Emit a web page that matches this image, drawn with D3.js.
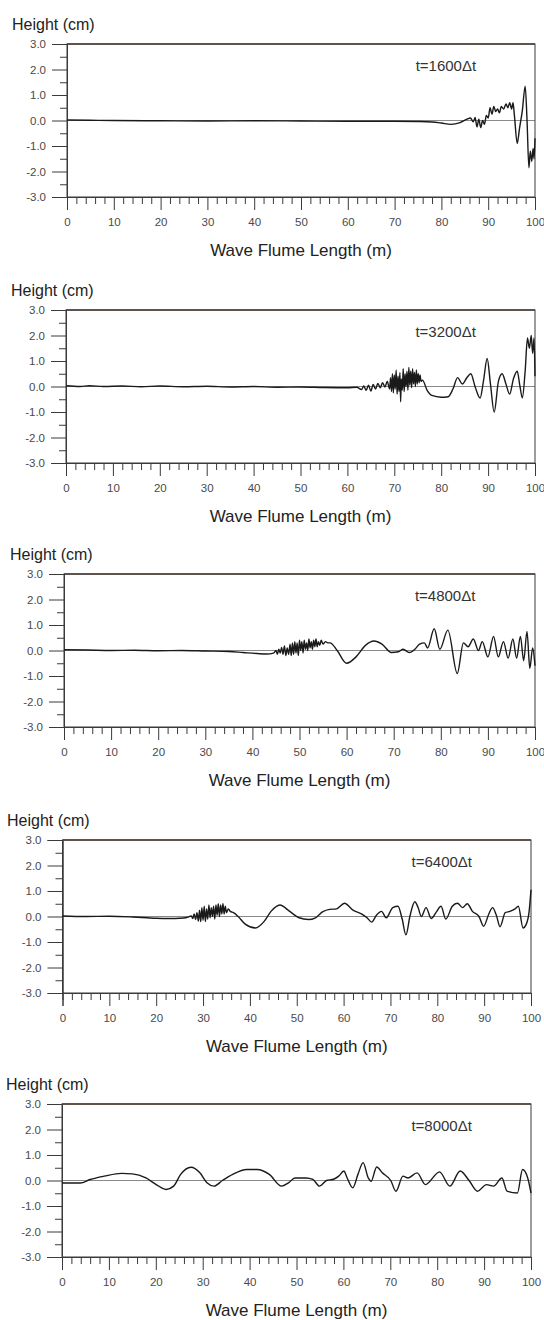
<!DOCTYPE html>
<html>
<head>
<script src="https://d3js.org/d3.v7.min.js"></script>
<style>
    body {
        margin: 0;
        background: #fff;
        font-family: 'Liberation Sans', Arial, sans-serif;
    }
    svg {
        display: block;
    }
</style>
</head>
<body>
<div id="chart"></div>
<script>
// tick values and labels
var xMajor = [0, 10, 20, 30, 40, 50, 60, 70, 80, 90, 100];
var xMinor = [2, 4, 6, 8, 12, 14, 16, 18, 22, 24, 26, 28, 32, 34, 36, 38, 42, 44, 46, 48,
              52, 54, 56, 58, 62, 64, 66, 68, 72, 74, 76, 78, 82, 84, 86, 88, 92, 94, 96, 98];
var yMajor = [-3, -2, -1, 0, 1, 2, 3];
var yMinor = [-2.5, -1.5, -0.5, 0.5, 1.5, 2.5];
var timeLabels = ["t=1600\u0394t", "t=3200\u0394t", "t=4800\u0394t", "t=6400\u0394t", "t=8000\u0394t"];
var yTitle = "Height (cm)";
var xTitle = "Wave Flume Length (m)";

// free surface elevation [x (m), height (cm)]
var eta1600 = [[0,0.02],[5,0.01],[10,0.0],[20,-0.01],[30,-0.02],[40,-0.01],[50,-0.02],[60,-0.03],[70,-0.03],
    [75,-0.04],[78,-0.06],[80,-0.1],[82,-0.15],[84,-0.08],[85.5,0.05],[86.2,0.1],[86.8,-0.05],[87.2,0.12],
    [87.6,-0.25],[88,0.05],[88.4,-0.28],[88.8,0.0],[89.2,-0.15],[89.6,0.2],[90,0.1],[90.4,0.5],[90.8,0.25],
    [91.2,0.55],[91.6,0.35],[92,0.45],[92.4,0.3],[92.8,0.55],[93.3,0.45],[93.8,0.65],[94.2,0.5],[94.6,0.7],
    [95,0.45],[95.3,0.7],[95.6,0.2],[96.2,-0.9],[96.7,-0.3],[97.3,0.4],[97.9,1.35],[98.3,0.0],[98.7,-1.85],
    [99.0,-1.2],[99.3,-1.6],[99.6,-1.1],[99.8,-1.5],[100,-0.7]];

var eta3200 = [[0,0.03],[3,0.0],[5,0.03],[8,0.0],[12,0.02],[16,-0.01],[20,0.02],[25,-0.01],[30,0.01],
    [35,-0.02],[40,0.0],[45,-0.03],[50,-0.02],[55,-0.04],[60,-0.05],[62,-0.03],[63,-0.12],[63.5,0.02],
    [64,-0.15],[64.5,0.05],[65,-0.18],[65.5,0.08],[66,-0.1],[66.5,0.12],[67,-0.05],[67.5,0.15],[68,-0.02],
    [68.5,0.2],[69,-0.1],[69.2,0.35],[69.4,-0.2],[69.6,0.5],[69.8,-0.25],[70,0.45],[70.2,-0.1],[70.4,0.65],
    [70.6,-0.3],[70.8,0.4],[71,-0.2],[71.2,0.55],[71.35,-0.6],[71.5,0.3],[71.7,-0.15],[71.9,0.7],[72.1,-0.2],
    [72.3,0.5],[72.5,0.0],[72.7,0.6],[72.9,-0.15],[73.1,0.75],[73.3,0.05],[73.5,0.6],[73.7,-0.05],[73.9,0.7],
    [74.1,0.1],[74.3,0.55],[74.5,0.0],[74.7,0.65],[74.9,0.1],[75.1,0.5],[75.3,0.15],[75.5,0.45],[75.7,0.2],
    [76,0.25],[77,-0.15],[78,-0.35],[80,-0.42],[81.5,-0.4],[82.5,-0.1],[83.5,0.35],[84.5,0.1],
    [85.5,0.35],[86.3,0.5],[87.3,-0.05],[88.3,-0.45],[89,0.2],[89.8,1.1],[90.5,0.1],[91.3,-1.0],[92.2,0.2],
    [93,0.5],[93.8,0.1],[94.6,-0.3],[95.4,0.3],[96.2,0.6],[96.8,0.0],[97.3,-0.45],[97.9,0.6],[98.4,1.9],
    [98.8,1.5],[99.2,2.0],[99.5,1.3],[99.8,1.9],[100,0.4]];

var eta4800 = [[0,0.03],[5,0.02],[10,0.0],[15,0.01],[20,-0.01],[25,0.0],[30,-0.02],[35,-0.04],[38,-0.08],
    [41,-0.12],[43,-0.14],[44.5,-0.1],[45,0.0],[45.3,-0.15],[45.6,0.05],[45.9,-0.1],[46.2,0.12],[46.5,-0.15],
    [46.8,0.18],[47.1,-0.2],[47.4,0.1],[47.7,-0.15],[48,0.25],[48.25,-0.2],[48.5,0.3],[48.75,-0.15],[49,0.35],
    [49.25,-0.1],[49.5,0.3],[49.75,-0.2],[50,0.4],[50.25,0.0],[50.5,0.35],[50.75,-0.1],[51,0.4],[51.25,0.05],
    [51.5,0.3],[51.75,0.0],[52,0.45],[52.25,0.1],[52.5,0.35],[52.75,0.05],[53,0.4],[53.25,0.15],[53.5,0.45],
    [53.75,0.15],[54,0.35],[54.3,0.2],[54.6,0.4],[55,0.25],[55.5,0.35],[56,0.3],[56.5,0.3],
    [58,0.0],[60,-0.5],[62,-0.25],[64,0.2],[65.8,0.37],[67.5,0.25],
    [69.5,-0.08],[71,-0.05],[72,0.05],[73.3,-0.08],[74.5,0.05],[75.5,0.25],[76.5,0.3],[77.2,0.1],[78.6,0.85],
    [79.8,0.05],[81.5,0.8],[83.5,-0.9],[84.8,0.3],[85.8,0.15],[86.9,0.45],[88,0.0],[88.8,0.35],[90,-0.25],
    [91.2,0.55],[92.2,-0.25],[93.3,0.35],[94.3,-0.3],[95.3,0.45],[96.1,-0.3],[96.9,0.55],[97.6,-0.4],
    [98.3,0.75],[98.9,-0.7],[99.5,0.1],[100,-0.6]];

var eta6400 = [[0,0.02],[5,0.0],[10,0.01],[15,-0.02],[18,-0.05],[20,-0.07],[23,-0.08],[25,-0.07],[26.5,-0.04],
    [27.5,0.02],[27.8,-0.08],[28.1,0.1],[28.4,-0.12],[28.7,0.15],[29,-0.18],[29.25,0.25],[29.5,-0.2],
    [29.75,0.35],[30,-0.15],[30.25,0.4],[30.5,-0.2],[30.75,0.3],[31,-0.1],[31.25,0.45],[31.5,-0.05],
    [31.75,0.35],[32,0.0],[32.25,0.4],[32.5,-0.1],[32.75,0.45],[33,0.05],[33.25,0.5],[33.5,0.0],[33.75,0.45],
    [34,0.1],[34.25,0.5],[34.5,0.1],[34.75,0.4],[35,0.15],[35.4,0.3],[35.8,0.2],
    [36.5,0.15],[37.5,0.0],[39,-0.3],[41.2,-0.45],[43,-0.2],[44.5,0.2],
    [46.4,0.45],[48.5,0.2],[50.5,-0.05],[52.5,-0.12],[54,-0.05],[55.5,0.18],[57,0.28],[58.5,0.3],[60.2,0.52],
    [62,0.25],[63.8,0.1],[65,-0.05],[66,-0.22],[67,0.05],[68.1,0.2],[69.1,-0.05],[70.5,0.35],[71.6,0.4],
    [72.5,-0.1],[73.3,-0.72],[74.2,0.05],[75.2,0.58],[75.9,0.35],[76.6,0.0],[77.6,0.35],[78.7,-0.08],
    [79.7,0.15],[80.8,0.4],[81.8,-0.1],[83.2,0.4],[84.3,0.52],[85.4,0.35],[86.4,0.5],[87.5,0.2],[88.9,0.0],
    [89.9,-0.38],[91,0.1],[91.8,0.35],[92.6,0.05],[93.4,-0.4],[94.5,0.15],[95.5,0.2],[96.6,0.3],[97.3,0.4],
    [98.3,-0.45],[99,-0.3],[99.6,0.2],[100,1.05]];

var eta8000 = [[0,-0.1],[3.9,-0.1],[6,0.04],[9,0.17],[12.7,0.28],[15,0.26],[17.9,0.1],[20.1,-0.16],
    [22.2,-0.35],[23.8,-0.22],[25.3,0.24],[27.5,0.52],[29.4,0.3],[30.9,-0.09],[32.4,-0.22],[34.2,0.0],
    [36.4,0.24],[39.4,0.43],[41.6,0.43],[44.2,0.24],[46.8,-0.22],[48.3,-0.09],[49.7,0.1],[52,0.1],[53.5,0.04],
    [54.9,-0.22],[56.4,0.0],[57.9,0.05],[59,0.17],[60.1,0.37],[60.8,0.1],[62,-0.29],[63.1,0.24],[64.2,0.7],
    [65.3,0.1],[65.9,-0.03],[67.1,0.53],[68.3,0.3],[70.1,0.0],[71.2,-0.42],[72.7,0.17],[73.8,0.1],[75.7,0.3],
    [77.5,-0.16],[80.5,0.34],[82.7,-0.22],[84.9,0.37],[86.8,0.0],[88.6,-0.42],[90.5,-0.16],[92,-0.22],
    [93.8,0.1],[94.9,-0.42],[97.1,-0.49],[98.2,0.43],[99.3,0.1],[100,-0.49]];

var series = [eta1600, eta3200, eta4800, eta6400, eta8000];

// page layout, one panel per snapshot
var W = 544, H = 1320;
var panelTop = [44, 310, 574, 840, 1104];
var panelLeft = [67, 66, 64, 62.5, 62];
var panelRight = [535, 535, 535, 531, 531];
var titleX = [12, 11, 10, 7, 6];
var plotH = 153;

var svg = d3.select("#chart")
    .append("svg")
    .attr("width", W)
    .attr("height", H);

series.forEach(function (data, i) {
    var x = d3.scaleLinear().domain([0, 100]).range([0, panelRight[i] - panelLeft[i]]);
    var y = d3.scaleLinear().domain([-3, 3]).range([plotH, 0]);
    var w = x(100);

    var g = svg.append("g")
        .attr("transform", "translate(" + panelLeft[i] + "," + panelTop[i] + ")");

    // zero line
    g.append("line")
        .attr("x1", 0).attr("x2", w)
        .attr("y1", y(0)).attr("y2", y(0))
        .attr("stroke", "#8a8a8a")
        .attr("stroke-width", 1);

    // frame (top edge a little heavier, as in the print)
    g.append("rect")
        .attr("width", w).attr("height", plotH)
        .attr("fill", "none")
        .attr("stroke", "#3a3a3a")
        .attr("stroke-width", 1);
    g.append("line")
        .attr("x1", 0).attr("x2", w)
        .attr("y1", 0).attr("y2", 0)
        .attr("stroke", "#4a3c36")
        .attr("stroke-width", 1.6);

    // y axis: major + minor ticks
    var yaxis = d3.axisLeft(y).tickValues(yMajor).tickSize(15).tickPadding(6)
        .tickFormat(function (d) { return d.toFixed(1); });
    var yminor = d3.axisLeft(y).tickValues(yMinor).tickSize(7).tickFormat("");
    g.append("g").call(yaxis);
    g.append("g").call(yminor);

    // x axis: major + minor ticks
    var xaxis = d3.axisBottom(x).tickValues(xMajor).tickSize(13).tickPadding(8);
    var xminor = d3.axisBottom(x).tickValues(xMinor).tickSize(7).tickFormat("");
    g.append("g").attr("transform", "translate(0," + plotH + ")").call(xaxis);
    g.append("g").attr("transform", "translate(0," + plotH + ")").call(xminor);

    g.selectAll(".domain").attr("stroke", "#3a3a3a");
    g.selectAll(".tick line").attr("stroke", "#3a3a3a");
    g.selectAll(".tick text")
        .attr("fill", "#4a4a4a")
        .style("font-size", "11.5px")
        .style("font-family", "'Liberation Sans', Arial, sans-serif");

    // wave profile
    var line = d3.line()
        .x(function (d) { return x(d[0]); })
        .y(function (d) { return y(d[1]); })
        .curve(d3.curveMonotoneX);

    g.append("path")
        .datum(data)
        .attr("fill", "none")
        .attr("stroke", "#1a1a1a")
        .attr("stroke-width", 1.4)
        .attr("stroke-linejoin", "round")
        .attr("d", line);

    // labels
    g.append("text")
        .attr("x", titleX[i] - panelLeft[i])
        .attr("y", -14)
        .attr("fill", "#222")
        .style("font-size", "16px")
        .text(yTitle);

    g.append("text")
        .attr("x", x(74.5))
        .attr("y", 27)
        .attr("fill", "#333")
        .style("font-size", "15px")
        .text(timeLabels[i]);

    g.append("text")
        .attr("x", w / 2)
        .attr("y", plotH + 59)
        .attr("text-anchor", "middle")
        .attr("fill", "#222")
        .style("font-size", "17px")
        .text(xTitle);
});
</script>
</body>
</html>
